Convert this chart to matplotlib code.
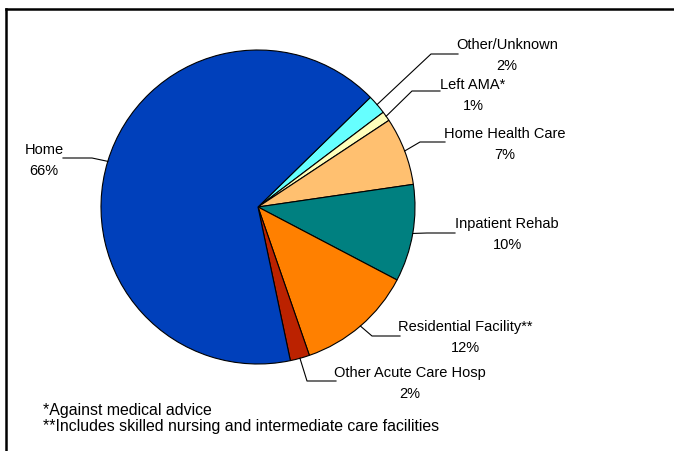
import numpy as np
import matplotlib.pyplot as plt
from matplotlib.lines import Line2D

W, H = 674, 451

# --- datos ---
categorias = ["Other/Unknown", "Left AMA*", "Home Health Care", "Inpatient Rehab",
              "Residential Facility**", "Other Acute Care Hosp", "Home"]
porcentajes = [2, 1, 7, 10, 12, 2, 66]
colores = ["#66FFFF", "#FFFFBB", "#FFC070", "#008080", "#FF8000", "#BB2200", "#0040BB"]

notas = ["*Against medical advice",
         "**Includes skilled nursing and intermediate care facilities"]

# --- maquetación (pixeles, y hacia abajo) ---
CENTRO = (258, 207)
RADIO = 157
INICIO = 44.3
# texto (x, y linea 1), codo, fin de la linea horizontal
pos_texto = [(507, 45), (473, 85), (505, 134), (507, 224), (465, 327), (410, 373), (44, 150)]
codos = [(431, 54), (412, 91), (420, 142), (427, 233), (372, 336), (307, 381), (92, 158)]
fines = [(458, 54), (440, 91), (445, 142), (455, 233), (400, 336), (336, 381), (63, 158)]


def fy(y):
    return H - y


fig = plt.figure(figsize=(W / 100, H / 100), dpi=100)
ax = fig.add_axes([0, 0, 1, 1])

wedges, _ = ax.pie(porcentajes, colors=colores, startangle=INICIO, counterclock=False,
                   center=(CENTRO[0], fy(CENTRO[1])), radius=RADIO,
                   wedgeprops=dict(edgecolor="black", linewidth=0.8))
ax.set_xlim(0, W)
ax.set_ylim(0, H)
ax.set_aspect("equal")
ax.axis("off")

fuente = "Liberation Sans"
for w, nombre, val, (tx, ty), (kx, ky), (ex, ey) in zip(wedges, categorias, porcentajes,
                                                        pos_texto, codos, fines):
    ang = np.deg2rad((w.theta1 + w.theta2) / 2)
    x0 = CENTRO[0] + RADIO * np.cos(ang)
    y0 = fy(CENTRO[1]) + RADIO * np.sin(ang)
    ax.plot([x0, kx, ex], [y0, fy(ky), fy(ey)], color="black", linewidth=0.8)
    ax.text(tx, fy(ty), nombre, ha="center", va="center", fontsize=10.5, family=fuente)
    ax.text(tx, fy(ty + 21), f"{val}%", ha="center", va="center", fontsize=10.5, family=fuente)

ax.text(43, fy(410), notas[0], ha="left", va="center", fontsize=11.4, family=fuente)
ax.text(43, fy(427), notas[1], ha="left", va="center", fontsize=11.4, family=fuente)

# marco (solo se ven arriba e izquierda)
fig.add_artist(Line2D([6 / W, 1], [1 - 9 / H, 1 - 9 / H], color="black", linewidth=1.8))
fig.add_artist(Line2D([6 / W, 6 / W], [0, 1 - 9 / H], color="black", linewidth=1.8))

fig.savefig("out.png", dpi=100)
